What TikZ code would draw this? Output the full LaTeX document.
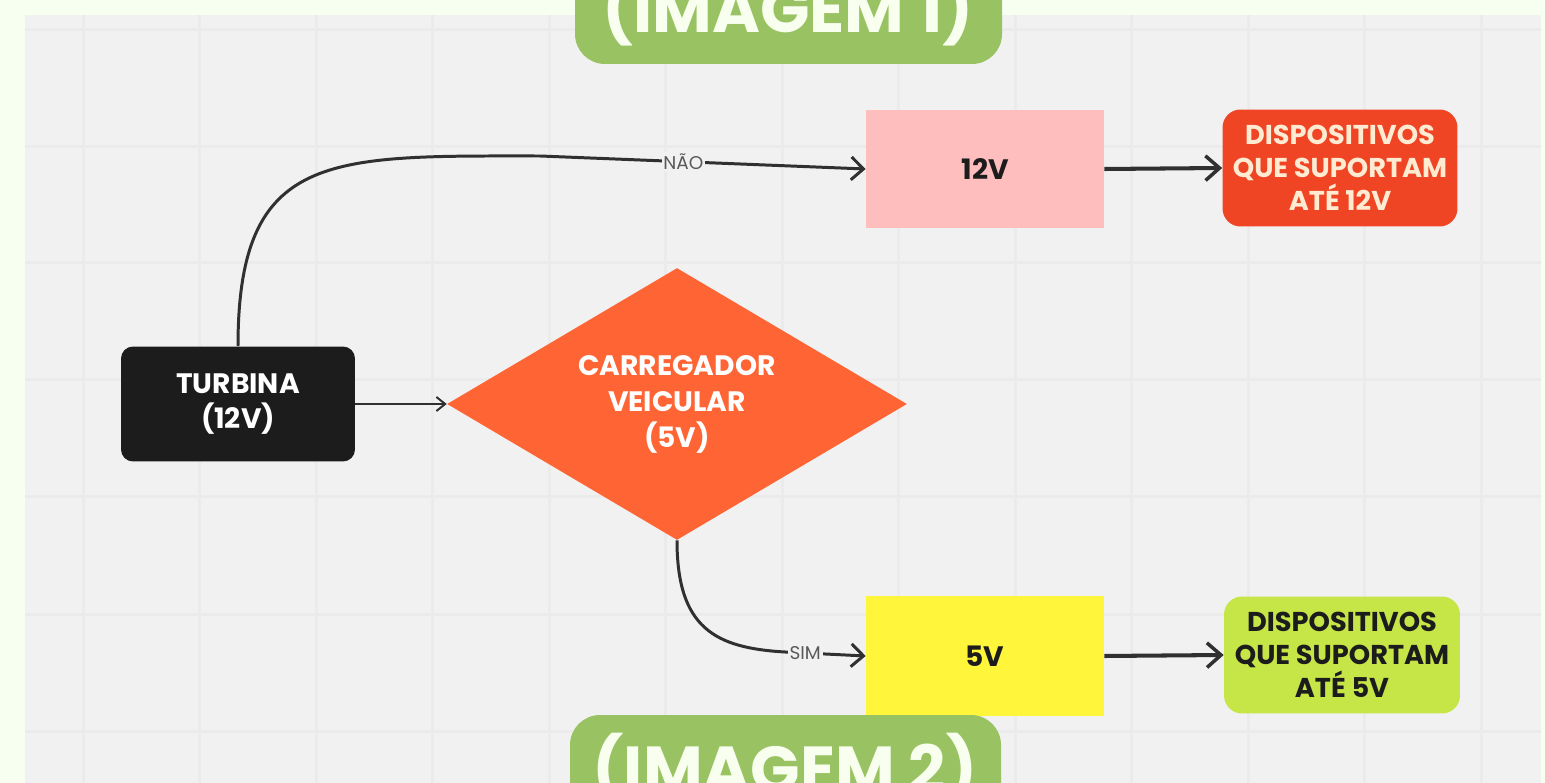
\documentclass[tikz,border=0pt]{standalone}
\usepackage{fontspec}
\setmainfont{Poppins}
\usetikzlibrary{shapes.geometric,arrows.meta}
\definecolor{fundoCreme}{HTML}{F7FFF0}
\definecolor{fundoCinza}{HTML}{F1F1F1}
\definecolor{gradeCinza}{HTML}{EBEBEB}
\definecolor{rotuloVerde}{HTML}{99C262}
\definecolor{rotuloTexto}{HTML}{F8FFEF}
\definecolor{turbPreto}{HTML}{1C1C1C}
\definecolor{carrLaranja}{HTML}{FF6534}
\definecolor{rosaClaro}{HTML}{FFBEBE}
\definecolor{vermelhoDisp}{HTML}{EF4524}
\definecolor{textoDisp}{HTML}{FFEBD2}
\definecolor{amareloCinco}{HTML}{FFF53A}
\definecolor{verdeLima}{HTML}{C6E546}
\definecolor{linhaEscura}{HTML}{303030}

\tikzset{
  caixa/.style={minimum width=4.76cm, minimum height=2.38cm, inner sep=0pt,
    align=center, font=\bfseries\fontsize{16}{20}\selectfont},
  rotulo/.style={fill=rotuloVerde, rounded corners=0.6cm},
  conexao/.style={draw=linhaEscura, line width=1.7pt,
    -{Straight Barb[length=7pt, width=13pt, line width=1.7pt]}},
  marca/.style={fill=fundoCinza, inner sep=1pt, text=gray!70!black,
    font=\fontsize{10.5}{12}\selectfont}
}

\begin{document}
\begin{tikzpicture}[x=0.02cm, y=-0.02cm]
    \clip (0,0) rectangle (1545,783);
    \fill[fundoCreme] (0,0) rectangle (1545,783);
    \fill[fundoCinza] (25,15) rectangle (1541,783);
    % grade de fundo
    \foreach \gx in {83,199.5,...,1541}
        \draw[gradeCinza, line width=0.06cm] (\gx,15) -- (\gx,783);
    \foreach \gy in {30,147,263,380,497,614,731}
        \draw[gradeCinza, line width=0.06cm] (25,\gy) -- (1541,\gy);

    % nos
    \node[caixa, fill=turbPreto, text=white, minimum width=4.68cm,
        minimum height=2.3cm, rounded corners=0.24cm] (turbina) at (238,404) {TURBINA\\(12V)};
    \node[diamond, aspect=1.69, fill=carrLaranja, text=white, minimum width=9.2cm,
        minimum height=5.44cm, inner sep=0pt, align=center,
        font=\bfseries\fontsize{16}{20.5}\selectfont] (carregador) at (677,404)
        {CARREGADOR\\VEICULAR\\(5V)};
    \node[caixa, fill=rosaClaro, text=turbPreto] (doze) at (985,169) {12V};
    \node[caixa, fill=vermelhoDisp, text=textoDisp, minimum width=4.7cm,
        minimum height=2.34cm, rounded corners=0.36cm,
        font=\bfseries\fontsize{15.5}{18.7}\selectfont] (dispDoze) at (1340,168)
        {DISPOSITIVOS\\QUE SUPORTAM\\ATÉ 12V};
    \node[caixa, fill=amareloCinco, text=turbPreto, minimum height=2.4cm] (cinco) at (985,656) {5V};
    \node[caixa, fill=verdeLima, text=turbPreto, minimum width=4.72cm,
        minimum height=2.34cm, rounded corners=0.36cm,
        font=\bfseries\fontsize{15.5}{18.7}\selectfont] (dispCinco) at (1342,655)
        {DISPOSITIVOS\\QUE SUPORTAM\\ATÉ 5V};

    % ligacoes
    \coordinate (curvaNao) at (540,156);
    \draw[conexao, arrows=-] (turbina.north) .. controls (238,150) and (330,156) .. (curvaNao);
    \draw[conexao] (curvaNao) -- node[marca, pos=0.44] {NÃO} (doze.west);
    \draw[conexao, line width=1.1pt,
        -{Straight Barb[length=5pt, width=8pt, line width=1.1pt]}] (turbina.east) -- (carregador.west);
    \coordinate (curvaSim) at (785,652);
    \draw[conexao, arrows=-] (carregador.south) .. controls (677,628) and (715,648) .. (curvaSim);
    \draw[conexao] (curvaSim) -- node[marca, pos=0.25] {SIM} (cinco.west);
    \draw[conexao, line width=2.3pt,
        -{Straight Barb[length=8pt, width=14pt, line width=2pt]}] (doze.east) -- (dispDoze.west);
    \draw[conexao, line width=2.3pt,
        -{Straight Barb[length=8pt, width=14pt, line width=2pt]}] (cinco.east) -- (dispCinco.west);

    % rotulos das imagens
    \fill[rotulo] (575,-40) rectangle (1002,64);
    \node[anchor=base, text=rotuloTexto, font=\bfseries\fontsize{37}{40}\selectfont] (imagemUm) at (788,33) {(IMAGEM 1)};
    \fill[rotulo] (570,715) rectangle (1001,830);
    \node[anchor=base, text=rotuloTexto, font=\bfseries\fontsize{37}{40}\selectfont] (imagemDois) at (785,792) {(IMAGEM 2)};
\end{tikzpicture}
\end{document}
